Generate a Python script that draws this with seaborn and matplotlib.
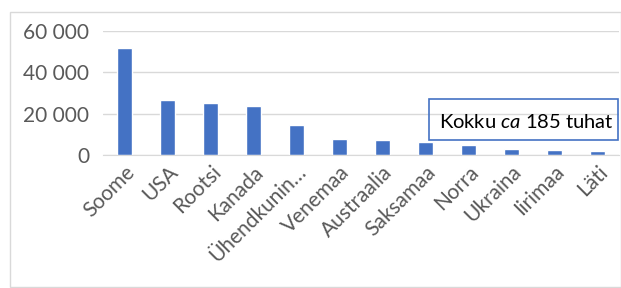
import matplotlib
matplotlib.use('Agg')
import matplotlib.pyplot as plt
import seaborn as sns
from matplotlib.patches import Rectangle

# andmed (loetud pildilt)
riigid = ['Soome', 'USA', 'Rootsi', 'Kanada', 'Ühendkunin…', 'Venemaa',
          'Austraalia', 'Saksamaa', 'Norra', 'Ukraina', 'Iirimaa', 'Läti']
arv = [52000, 26600, 25000, 23500, 14500, 7700, 7300, 6300, 5000, 2700, 2400, 2100]
yticks = [0, 20000, 40000, 60000]
ytick_labels = ['0', '20 000', '40 000', '60 000']

sns.set_style('white')
plt.rcParams['font.family'] = ['Lato', 'DejaVu Sans']
plt.rcParams['mathtext.fontset'] = 'custom'
plt.rcParams['mathtext.rm'] = 'Lato'
plt.rcParams['mathtext.it'] = 'Lato:italic'

fig = plt.figure(figsize=(6.21, 2.88), dpi=100)
W, H = 621, 288

# raam ümber diagrammi
fig.patches.append(Rectangle((10 / W, 1 - 287 / H), 611 / W, 275 / H,
                             transform=fig.transFigure, fill=False,
                             edgecolor='#d9d9d9', linewidth=1))

ax = fig.add_axes([103 / W, 1 - 155 / H, 516 / W, 124 / H])
sns.barplot(x=riigid, y=arv, color='#4472C4', width=0.33, saturation=1, ax=ax)

ax.set_ylim(0, 60000)
ax.set_xlim(-0.5, len(riigid) - 0.5)
ax.set_yticks(yticks)
ax.set_yticklabels(ytick_labels)
ax.grid(axis='y', color='#d9d9d9', linewidth=1)
ax.set_axisbelow(True)
for s in ['top', 'right', 'left']:
    ax.spines[s].set_visible(False)
ax.spines['bottom'].set_color('#d9d9d9')
ax.tick_params(axis='both', length=0, labelsize=15, colors='#595959', pad=10)
ax.tick_params(axis='x', pad=5)
plt.setp(ax.get_xticklabels(), rotation=45, ha='right', rotation_mode='anchor')

# kokku-kast
fig.patches.append(Rectangle((429 / W, 1 - 140 / H), 189 / W, 41 / H,
                             transform=fig.transFigure, fill=False,
                             edgecolor='#4472C4', linewidth=1.2))
fig.text(614 / W, 1 - 122 / H, r'Kokku $\mathit{ca}$ 185 tuhat', ha='right', va='center',
         fontsize=14.5, color='black')

fig.savefig('out.png', dpi=100)
